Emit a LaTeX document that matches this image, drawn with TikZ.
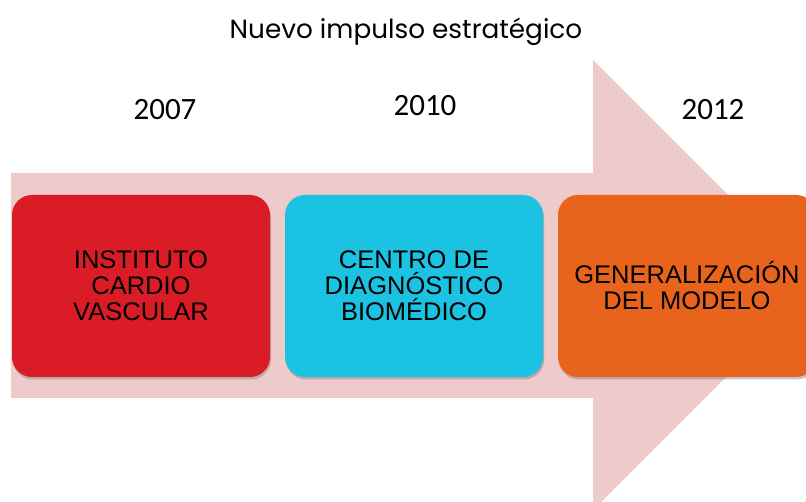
\documentclass[tikz,border=0pt]{standalone}
\usepackage{fontspec}
\setmainfont{Liberation Sans}
\newfontfamily\titlefont{Poppins}
\newfontfamily\yearfont{Carlito}
\usetikzlibrary{shadows}

\definecolor{arrowpink}{RGB}{238,202,202}
\definecolor{boxred}{RGB}{217,28,38}
\definecolor{boxcyan}{RGB}{28,194,226}
\definecolor{boxorange}{RGB}{232,99,28}

\tikzset{
	stage/.style={rounded corners=20pt, drop shadow={shadow xshift=1pt, shadow yshift=-2.5pt, opacity=0.45}},
	stagetext/.style={align=center, text=black, font=\fontsize{25.5}{26}\selectfont},
	year/.style={font=\yearfont\fontsize{31}{31}\selectfont},
}

\begin{document}
\begin{tikzpicture}[x=1pt, y=-1pt]
			\useasboundingbox (0,0) rectangle (806,502);
			\clip (0,0) rectangle (806,502);
			\node (title) at (406,32) [font=\titlefont\fontsize{26.3}{26}\selectfont] {Nuevo impulso estratégico};
			\node (y2007) at (165,110) [year] {2007};
			\node (y2010) at (425,106) [year] {2010};
			\node (y2012) at (713,110) [year] {2012};
			% timeline arrow
			\fill[arrowpink] (11,173) -- (593,173) -- (593,60) -- (818,285) -- (593,510) -- (593,398) -- (11,398) -- cycle;
			\fill[stage, boxred]    (12,  195) rectangle (270, 377) node[midway, stagetext] (inst)   {INSTITUTO\\CARDIO\\VASCULAR};
			\fill[stage, boxcyan]   (285, 195) rectangle (543, 377) node[midway, stagetext] (centro) {CENTRO DE\\DIAGNÓSTICO\\BIOMÉDICO};
			\fill[stage, boxorange] (558, 195) rectangle (816, 377) node[midway, stagetext] (gen)    {GENERALIZACIÓN\\DEL MODELO};
		\end{tikzpicture}
\end{document}
